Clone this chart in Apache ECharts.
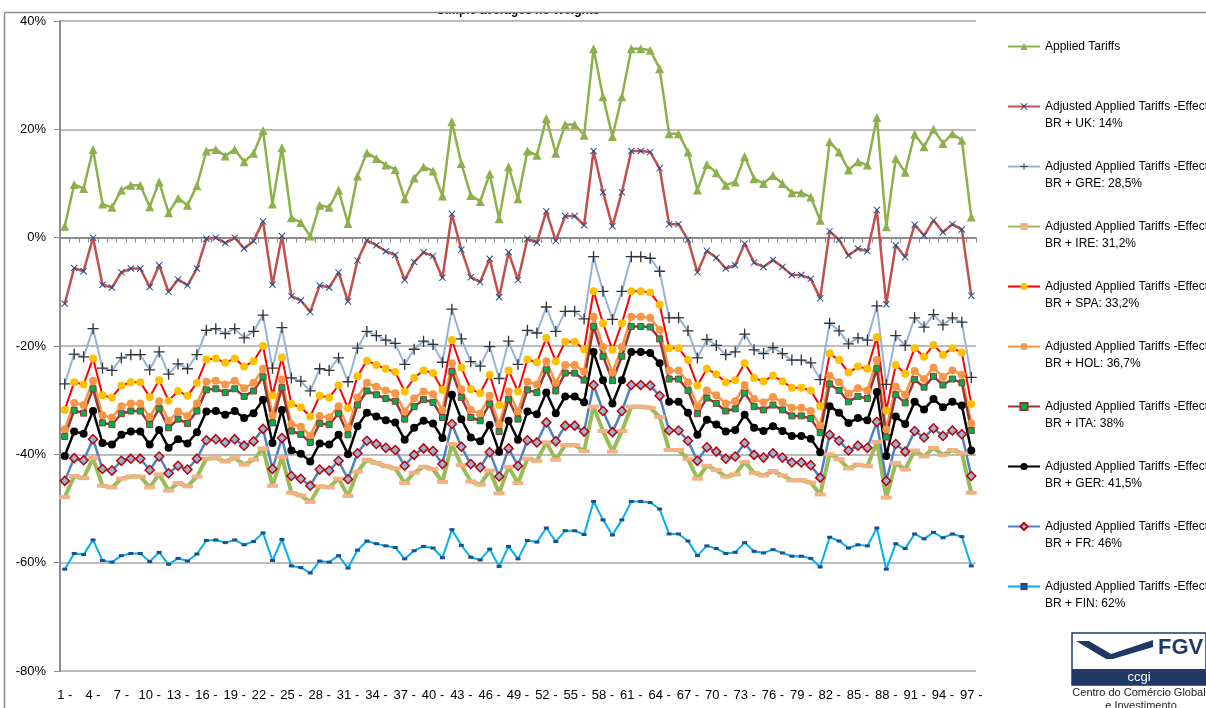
<!DOCTYPE html>
<html><head><meta charset="utf-8">
<script src="https://cdn.jsdelivr.net/npm/echarts@6/dist/echarts.min.js"></script>
<style>html,body{margin:0;padding:0;background:#fff}#c{width:1206px;height:708px}</style>
</head><body><div id="c"></div>
<script>
const categories = ["1 -","2 -","3 -","4 -","5 -","6 -","7 -","8 -","9 -","10 -","11 -","12 -","13 -","14 -","15 -","16 -","17 -","18 -","19 -","20 -","21 -","22 -","23 -","24 -","25 -","26 -","27 -","28 -","29 -","30 -","31 -","32 -","33 -","34 -","35 -","36 -","37 -","38 -","39 -","40 -","41 -","42 -","43 -","44 -","45 -","46 -","47 -","48 -","49 -","50 -","51 -","52 -","53 -","54 -","55 -","56 -","57 -","58 -","59 -","60 -","61 -","62 -","63 -","64 -","65 -","66 -","67 -","68 -","69 -","70 -","71 -","72 -","73 -","74 -","75 -","76 -","77 -","78 -","79 -","80 -","81 -","82 -","83 -","84 -","85 -","86 -","87 -","88 -","89 -","90 -","91 -","92 -","93 -","94 -","95 -","96 -","97 -"];

const seriesNames = [
  "Applied Tariffs",
  "Adjusted Applied Tariffs -Effect BR + UK: 14%",
  "Adjusted Applied Tariffs -Effect BR + GRE: 28,5%",
  "Adjusted Applied Tariffs -Effect BR + IRE: 31,2%",
  "Adjusted Applied Tariffs -Effect BR + SPA: 33,2%",
  "Adjusted Applied Tariffs -Effect BR + HOL: 36,7%",
  "Adjusted Applied Tariffs -Effect BR + ITA: 38%",
  "Adjusted Applied Tariffs -Effect BR + GER: 41,5%",
  "Adjusted Applied Tariffs -Effect BR + FR: 46%",
  "Adjusted Applied Tariffs -Effect BR + FIN: 62%"
];

const applied = [2.1,9.8,9.1,16.3,6.2,5.6,8.8,9.7,9.7,5.7,10.3,4.6,7.3,6.0,9.6,16.0,16.3,15.1,16.3,14.0,15.6,19.8,6.2,16.6,3.7,2.8,0.3,6.0,5.6,8.8,2.6,11.4,15.7,14.6,13.4,12.6,7.2,11.0,13.1,12.3,7.7,21.4,13.7,7.8,6.7,11.8,3.5,13.1,7.2,16.0,15.2,22.0,15.6,20.9,20.9,18.9,34.9,26.0,18.7,26.0,34.9,34.9,34.6,31.2,19.2,19.2,15.8,8.8,13.5,12.0,9.7,10.3,15.0,10.9,10.0,11.5,10.0,8.3,8.3,7.5,3.2,17.7,15.8,12.5,14.0,13.4,22.2,2.0,14.6,12.1,19.1,16.8,20.0,17.4,19.2,18.0,3.8];

const uk = [-12.2,-5.6,-6.2,0.0,-8.7,-9.2,-6.4,-5.7,-5.7,-9.1,-5.1,-10.0,-7.7,-8.8,-5.7,-0.2,0.0,-1.0,0.0,-2.0,-0.6,3.0,-8.7,0.3,-10.8,-11.6,-13.7,-8.8,-9.2,-6.4,-11.8,-4.2,-0.5,-1.4,-2.5,-3.2,-7.8,-4.5,-2.7,-3.4,-7.4,4.4,-2.2,-7.3,-8.2,-3.9,-11.0,-2.7,-7.8,-0.2,-0.9,4.9,-0.6,4.0,4.0,2.3,16.0,8.4,2.1,8.4,16.0,16.0,15.8,12.8,2.5,2.5,-0.4,-6.4,-2.4,-3.7,-5.7,-5.1,-1.1,-4.6,-5.4,-4.1,-5.4,-6.9,-6.9,-7.6,-11.2,1.2,-0.4,-3.3,-2.0,-2.5,5.1,-12.3,-1.4,-3.6,2.4,0.4,3.2,1.0,2.5,1.5,-10.7];

const gre = [-27.0,-21.5,-22.0,-16.8,-24.1,-24.5,-22.2,-21.6,-21.6,-24.4,-21.1,-25.2,-23.3,-24.2,-21.6,-17.1,-16.8,-17.7,-16.8,-18.5,-17.3,-14.3,-24.1,-16.6,-25.9,-26.5,-28.3,-24.2,-24.5,-22.2,-26.6,-20.4,-17.3,-18.1,-18.9,-19.5,-23.4,-20.6,-19.1,-19.7,-23.0,-13.2,-18.7,-22.9,-23.7,-20.1,-26.0,-19.1,-23.4,-17.1,-17.6,-12.8,-17.3,-13.6,-13.6,-15.0,-3.5,-9.9,-15.1,-9.9,-3.5,-3.5,-3.8,-6.2,-14.8,-14.8,-17.2,-22.2,-18.8,-19.9,-21.6,-21.1,-17.8,-20.7,-21.4,-20.3,-21.4,-22.6,-22.6,-23.1,-26.2,-15.8,-17.2,-19.6,-18.5,-18.9,-12.6,-27.1,-18.1,-19.9,-14.8,-16.5,-14.2,-16.1,-14.8,-15.6,-25.8];

const ire = [-47.9,-44.0,-44.4,-40.7,-45.8,-46.1,-44.5,-44.1,-44.1,-46.1,-43.7,-46.7,-45.3,-45.9,-44.1,-40.8,-40.7,-41.3,-40.7,-41.9,-41.0,-38.9,-45.8,-40.5,-47.1,-47.6,-48.8,-45.9,-46.1,-44.5,-47.7,-43.2,-41.0,-41.6,-42.2,-42.6,-45.3,-43.4,-42.3,-42.7,-45.1,-38.1,-42.0,-45.0,-45.6,-43.0,-47.2,-42.3,-45.3,-40.8,-41.2,-37.8,-41.0,-38.3,-38.3,-39.4,-31.2,-35.7,-39.5,-35.7,-31.2,-31.2,-31.4,-33.1,-39.2,-39.2,-40.9,-44.5,-42.1,-42.9,-44.1,-43.7,-41.4,-43.4,-43.9,-43.1,-43.9,-44.8,-44.8,-45.2,-47.4,-40.0,-40.9,-42.6,-41.9,-42.2,-37.7,-48.0,-41.6,-42.8,-39.3,-40.4,-38.8,-40.1,-39.2,-39.8,-47.1];

const spa = [-31.8,-26.7,-27.1,-22.3,-29.1,-29.5,-27.3,-26.7,-26.7,-29.4,-26.3,-30.1,-28.3,-29.2,-26.8,-22.5,-22.3,-23.1,-22.3,-23.8,-22.8,-20.0,-29.1,-22.1,-30.7,-31.3,-33.0,-29.2,-29.5,-27.3,-31.5,-25.6,-22.7,-23.5,-24.2,-24.8,-28.4,-25.9,-24.5,-25.0,-28.1,-18.9,-24.0,-28.0,-28.7,-25.3,-30.9,-24.5,-28.4,-22.5,-23.0,-18.5,-22.8,-19.2,-19.2,-20.6,-9.9,-15.8,-20.7,-15.8,-9.9,-9.9,-10.1,-12.4,-20.4,-20.4,-22.6,-27.3,-24.2,-25.2,-26.7,-26.3,-23.2,-25.9,-26.5,-25.5,-26.5,-27.7,-27.7,-28.2,-31.1,-21.4,-22.6,-24.9,-23.8,-24.2,-18.4,-31.9,-23.5,-25.1,-20.4,-22.0,-19.8,-21.6,-20.4,-21.2,-30.7];

const hol = [-35.4,-30.5,-30.9,-26.4,-32.8,-33.2,-31.1,-30.6,-30.6,-33.1,-30.2,-33.8,-32.1,-32.9,-30.6,-26.6,-26.4,-27.1,-26.4,-27.8,-26.8,-24.2,-32.8,-26.2,-34.4,-34.9,-36.5,-32.9,-33.2,-31.1,-35.1,-29.5,-26.8,-27.5,-28.2,-28.7,-32.1,-29.7,-28.4,-28.9,-31.8,-23.2,-28.0,-31.8,-32.5,-29.2,-34.5,-28.4,-32.1,-26.6,-27.1,-22.8,-26.8,-23.5,-23.5,-24.7,-14.6,-20.2,-24.9,-20.2,-14.6,-14.6,-14.8,-17.0,-24.5,-24.5,-26.7,-31.1,-28.2,-29.1,-30.6,-30.2,-27.2,-29.8,-30.4,-29.4,-30.4,-31.4,-31.4,-32.0,-34.7,-25.5,-26.7,-28.8,-27.8,-28.2,-22.6,-35.4,-27.5,-29.0,-24.6,-26.1,-24.0,-25.7,-24.5,-25.3,-34.3];

const ita = [-36.7,-31.9,-32.4,-27.9,-34.2,-34.5,-32.5,-32.0,-32.0,-34.5,-31.6,-35.1,-33.5,-34.3,-32.0,-28.1,-27.9,-28.6,-27.9,-29.3,-28.3,-25.7,-34.2,-27.7,-35.7,-36.3,-37.8,-34.3,-34.5,-32.5,-36.4,-30.9,-28.3,-29.0,-29.7,-30.2,-33.5,-31.2,-29.9,-30.4,-33.2,-24.7,-29.5,-33.2,-33.8,-30.7,-35.8,-29.9,-33.5,-28.1,-28.6,-24.4,-28.3,-25.0,-25.0,-26.3,-16.4,-21.9,-26.4,-21.9,-16.4,-16.4,-16.5,-18.7,-26.1,-26.1,-28.2,-32.5,-29.6,-30.6,-32.0,-31.6,-28.7,-31.2,-31.8,-30.9,-31.8,-32.9,-32.9,-33.4,-36.0,-27.0,-28.2,-30.3,-29.3,-29.7,-24.2,-36.8,-29.0,-30.5,-26.2,-27.6,-25.6,-27.2,-26.1,-26.8,-35.6];

const ger = [-40.3,-35.8,-36.2,-32.0,-37.9,-38.2,-36.4,-35.8,-35.8,-38.2,-35.5,-38.8,-37.2,-38.0,-35.9,-32.1,-32.0,-32.7,-32.0,-33.3,-32.4,-29.9,-37.9,-31.8,-39.3,-39.9,-41.3,-38.0,-38.2,-36.4,-40.0,-34.8,-32.3,-33.0,-33.7,-34.1,-37.3,-35.1,-33.8,-34.3,-37.0,-29.0,-33.5,-36.9,-37.6,-34.6,-39.5,-33.8,-37.3,-32.1,-32.6,-28.6,-32.4,-29.3,-29.3,-30.4,-21.1,-26.3,-30.6,-26.3,-21.1,-21.1,-21.3,-23.2,-30.3,-30.3,-32.3,-36.4,-33.6,-34.5,-35.8,-35.5,-32.7,-35.1,-35.7,-34.8,-35.7,-36.6,-36.6,-37.1,-39.6,-31.1,-32.3,-34.2,-33.3,-33.7,-28.5,-40.3,-33.0,-34.4,-30.3,-31.7,-29.8,-31.3,-30.3,-31.0,-39.3];

const fr = [-44.9,-40.7,-41.1,-37.2,-42.7,-43.0,-41.2,-40.8,-40.8,-42.9,-40.4,-43.5,-42.1,-42.8,-40.8,-37.4,-37.2,-37.8,-37.2,-38.4,-37.6,-35.3,-42.7,-37.0,-44.0,-44.5,-45.8,-42.8,-43.0,-41.2,-44.6,-39.8,-37.5,-38.1,-38.8,-39.2,-42.1,-40.1,-38.9,-39.4,-41.8,-34.4,-38.6,-41.8,-42.4,-39.6,-44.1,-38.9,-42.1,-37.4,-37.8,-34.1,-37.6,-34.7,-34.7,-35.8,-27.2,-32.0,-35.9,-32.0,-27.2,-27.2,-27.3,-29.2,-35.6,-35.6,-37.5,-41.2,-38.7,-39.5,-40.8,-40.4,-37.9,-40.1,-40.6,-39.8,-40.6,-41.5,-41.5,-42.0,-44.3,-36.4,-37.5,-39.3,-38.4,-38.8,-34.0,-44.9,-38.1,-39.5,-35.7,-36.9,-35.2,-36.6,-35.6,-36.3,-44.0];

const fin = [-61.2,-58.3,-58.5,-55.8,-59.6,-59.9,-58.7,-58.3,-58.3,-59.8,-58.1,-60.3,-59.2,-59.7,-58.4,-55.9,-55.8,-56.3,-55.8,-56.7,-56.1,-54.5,-59.6,-55.7,-60.6,-60.9,-61.9,-59.7,-59.9,-58.7,-61.0,-57.7,-56.0,-56.5,-56.9,-57.2,-59.3,-57.8,-57.0,-57.3,-59.1,-53.9,-56.8,-59.0,-59.5,-57.5,-60.7,-57.0,-59.3,-55.9,-56.2,-53.6,-56.1,-54.1,-54.1,-54.8,-48.7,-52.1,-54.9,-52.1,-48.7,-48.7,-48.9,-50.1,-54.7,-54.7,-56.0,-58.7,-56.9,-57.4,-58.3,-58.1,-56.3,-57.9,-58.2,-57.6,-58.2,-58.8,-58.8,-59.2,-60.8,-55.3,-56.0,-57.3,-56.7,-56.9,-53.6,-61.2,-56.5,-57.4,-54.7,-55.6,-54.4,-55.4,-54.7,-55.2,-60.6];

const FONT = "'Liberation Sans Narrow', 'Liberation Sans', Arial, sans-serif";
const X_SYM = 'path://M1,0 L5,4 L9,0 L10,1 L6,5 L10,9 L9,10 L5,6 L1,10 L0,9 L4,5 L0,1 Z';
const PLUS_SYM = 'path://M4.4,0 L5.6,0 L5.6,4.4 L10,4.4 L10,5.6 L5.6,5.6 L5.6,10 L4.4,10 L4.4,5.6 L0,5.6 L0,4.4 L4.4,4.4 Z';

function mk(name, data, lineColor, width, symbol, size, fill, border, bw) {
  return {
    name: name, type: 'line', data: data, xAxisIndex: 0, yAxisIndex: 0,
    symbol: symbol, symbolSize: size, showSymbol: true, showAllSymbol: true,
    lineStyle: { color: lineColor, width: width },
    itemStyle: { color: fill, borderColor: border || fill, borderWidth: bw || 0 },
    emphasis: { disabled: true }, animation: false
  };
}

const chart = echarts.init(document.getElementById('c'));
chart.setOption({
  animation: false,
  backgroundColor: '#fff',
  grid: { left: 60, right: 230, top: 21, bottom: 37, containLabel: false },
  xAxis: [
    { type: 'category', data: categories, boundaryGap: true, position: 'bottom',
      axisLine: { show: false, onZero: false }, axisTick: { show: false },
      axisLabel: { interval: 2, margin: 18, color: '#000', fontFamily: FONT, fontSize: 13 },
      splitLine: { show: false } },
    { type: 'category', data: categories, boundaryGap: true, position: 'top',
      axisLine: { show: true, onZero: true, lineStyle: { color: '#8c8c8c', width: 2 } },
      axisTick: { show: true, inside: true, interval: 0, length: 5, lineStyle: { color: '#8c8c8c', width: 1 } },
      axisLabel: { show: false }, splitLine: { show: false } }
  ],
  yAxis: {
    type: 'value', min: -80, max: 40, interval: 20,
    axisLine: { show: true, lineStyle: { color: '#8c8c8c', width: 2 } },
    axisTick: { show: true, length: 6, lineStyle: { color: '#8c8c8c', width: 1 } },
    axisLabel: { formatter: '{value}%', margin: 14, color: '#000', fontFamily: FONT, fontSize: 13 },
    splitLine: { show: true, lineStyle: { color: '#a6a6a6', width: 1.5 } }
  },
  legend: {
    orient: 'vertical', left: 1007, top: 21, padding: 0, itemGap: 9, itemWidth: 32, itemHeight: 9,
    data: seriesNames,
    formatter: function (n) { return n.indexOf(' BR') > 0 ? '\n' + n.replace(' BR', '\nBR') : '\n' + n + '\n'; },
    textStyle: { fontFamily: FONT, fontSize: 12, lineHeight: 17, color: '#000' },
    selectedMode: false
  },
  series: [
    mk(seriesNames[0], applied, '#8db04a', 2.5, 'triangle', 9, '#8db04a'),
    mk(seriesNames[1], uk, '#c0504d', 2.5, X_SYM, 7, '#1f4e8c'),
    mk(seriesNames[2], gre, '#95b3d7', 2, PLUS_SYM, 11, '#333333'),
    mk(seriesNames[3], ire, '#9bbb59', 4, 'rect', [11, 4], '#f4b183'),
    mk(seriesNames[4], spa, '#ff0000', 2, 'circle', 8, '#ffc000'),
    mk(seriesNames[5], hol, '#f79646', 2.5, 'circle', 8, '#f79646'),
    mk(seriesNames[6], ita, '#953735', 2.5, 'rect', 6, '#00b050', '#953735', 1),
    mk(seriesNames[7], ger, '#000000', 2.5, 'circle', 8, '#000000'),
    mk(seriesNames[8], fr, '#4f81bd', 2.5, 'diamond', 9, '#95b3d7', '#c00000', 1.5),
    mk(seriesNames[9], fin, '#00b0f0', 2, 'rect', [5, 3], '#1f4e8c')
  ],
  graphic: [
    { type: 'text', left: 437, top: 5, style: { text: 'Simple averages no Weights', fontFamily: "'Liberation Sans', Arial, sans-serif", fontWeight: 'bold', fontSize: 12, fill: '#000' } },
    { type: 'rect', shape: { x: 0, y: 0, width: 1206, height: 12 }, style: { fill: '#fff' } },
    { type: 'line', shape: { x1: 4.5, y1: 12.5, x2: 1206, y2: 12.5 }, style: { stroke: '#8c8c8c', lineWidth: 1.5 } },
    { type: 'line', shape: { x1: 4.5, y1: 12.5, x2: 4.5, y2: 708 }, style: { stroke: '#8c8c8c', lineWidth: 1.5 } },
    { type: 'rect', shape: { x: 1072, y: 633, width: 134, height: 52 }, style: { fill: '#fff', stroke: '#1f3864', lineWidth: 1.5 } },
    { type: 'polygon', shape: { points: [[1076, 641], [1089, 641], [1111, 654], [1153, 640], [1153, 647], [1113, 659], [1106, 659]] }, style: { fill: '#1f3864' } },
    { type: 'text', left: 1158, top: 637, style: { text: 'FGV', fontFamily: "'Liberation Sans', Arial, sans-serif", fontWeight: 'bold', fontSize: 22, fill: '#1f3864' } },
    { type: 'rect', shape: { x: 1072, y: 669, width: 134, height: 16 }, style: { fill: '#1f3864' } },
    { type: 'text', x: 1139, y: 677, style: { text: 'ccgi', align: 'center', verticalAlign: 'middle', fontFamily: "'Liberation Sans', Arial, sans-serif", fontSize: 13, fill: '#fff' } },
    { type: 'text', x: 1139, y: 693, style: { text: 'Centro do Comércio Global', align: 'center', verticalAlign: 'middle', fontFamily: FONT, fontSize: 11, fill: '#222' } },
    { type: 'text', x: 1141, y: 706, style: { text: 'e Investimento', align: 'center', verticalAlign: 'middle', fontFamily: FONT, fontSize: 11, fill: '#222' } }
  ]
});
</script>
</body></html>
